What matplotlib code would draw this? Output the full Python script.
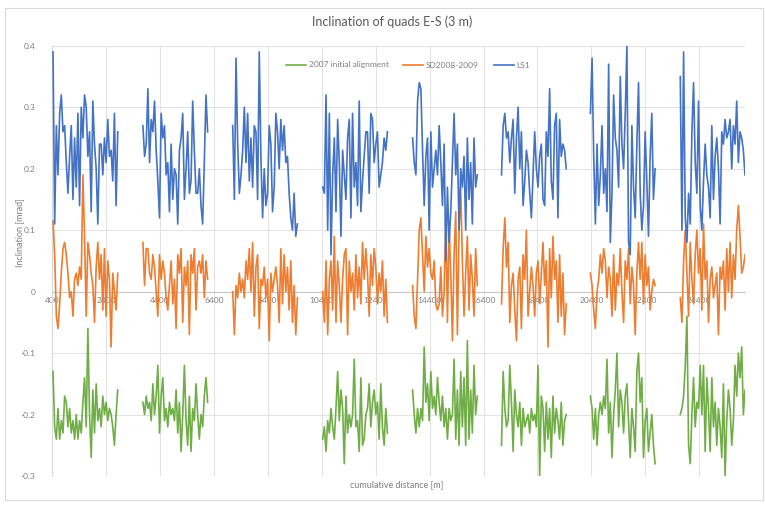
import numpy as np
import matplotlib
matplotlib.use("Agg")
import matplotlib.pyplot as plt
from matplotlib.patches import Rectangle

plt.rcParams['font.family'] = ['Lato', 'DejaVu Sans']

# Start of each arc along the ring [m] and arc length
seg_starts = [437, 3770, 7100, 10437, 13770, 17067, 20363, 23696]
SEG_LEN = 2400

# Inclination per quad [mrad], one list per arc
ls1 = [
    [0.39, 0.11, 0.27, 0.19, 0.29, 0.32, 0.26, 0.27, 0.21, 0.16, 0.22, 0.27, 0.15, 0.25, 0.17, 0.29, 0.14, 0.30, 0.25, 0.32,
     0.30, 0.22, 0.26, 0.13, 0.31, 0.24, 0.20, 0.11, 0.24, 0.24, 0.19, 0.25, 0.21, 0.28, 0.22, 0.23, 0.18, 0.29, 0.14, 0.26],
    [0.27, 0.22, 0.24, 0.33, 0.21, 0.28, 0.26, 0.31, 0.23, 0.18, 0.12, 0.29, 0.25, 0.27, 0.19, 0.21, 0.13, 0.24, 0.15, 0.20,
     0.19, 0.11, 0.23, 0.25, 0.29, 0.15, 0.20, 0.26, 0.16, 0.18, 0.31, 0.23, 0.16, 0.16, 0.20, 0.14, 0.11, 0.21, 0.32, 0.26],
    [0.27, 0.15, 0.38, 0.24, 0.16, 0.19, 0.23, 0.30, 0.21, 0.29, 0.18, 0.25, 0.17, 0.27, 0.26, 0.15, 0.39, 0.22, 0.12, 0.20,
     0.14, 0.16, 0.27, 0.24, 0.13, 0.17, 0.29, 0.26, 0.20, 0.28, 0.23, 0.27, 0.21, 0.22, 0.16, 0.12, 0.10, 0.16, 0.09, 0.11],
    [0.17, 0.16, 0.32, 0.10, 0.29, 0.06, 0.19, 0.25, 0.13, 0.28, 0.21, 0.09, 0.23, 0.19, 0.15, 0.25, 0.28, 0.12, 0.29, 0.17,
     0.21, 0.14, 0.31, 0.13, 0.18, 0.22, 0.26, 0.26, 0.16, 0.29, 0.28, 0.21, 0.24, 0.26, 0.17, 0.19, 0.21, 0.25, 0.23, 0.26],
    [0.25, 0.21, 0.19, 0.31, 0.34, 0.33, 0.23, 0.14, 0.22, 0.25, 0.10, 0.26, 0.17, 0.20, 0.23, 0.19, 0.27, 0.21, 0.14, 0.24,
     0.05, 0.17, 0.08, 0.13, 0.21, 0.29, 0.19, 0.24, 0.10, 0.20, 0.17, 0.22, 0.10, 0.25, 0.15, 0.21, 0.11, 0.25, 0.17, 0.19],
    [0.19, 0.27, 0.29, 0.25, 0.26, 0.21, 0.25, 0.28, 0.16, 0.25, 0.30, 0.20, 0.26, 0.14, 0.18, 0.23, 0.21, 0.16, 0.12, 0.19,
     0.26, 0.20, 0.17, 0.22, 0.24, 0.15, 0.14, 0.26, 0.22, 0.33, 0.18, 0.15, 0.27, 0.29, 0.12, 0.28, 0.22, 0.24, 0.23, 0.20],
    [0.29, 0.38, 0.22, 0.11, 0.24, 0.14, 0.19, 0.27, 0.16, 0.20, 0.13, 0.37, 0.08, 0.16, 0.32, 0.25, 0.23, 0.17, 0.35, 0.24,
     0.20, 0.29, 0.40, 0.08, 0.06, 0.27, 0.17, 0.12, 0.24, 0.34, 0.16, 0.10, 0.14, 0.26, 0.18, 0.09, 0.22, 0.29, 0.15, 0.20],
    [0.35, 0.10, 0.39, 0.12, 0.08, 0.16, 0.11, 0.26, 0.34, 0.21, 0.16, 0.31, 0.14, 0.10, 0.18, 0.24, 0.19, 0.17, 0.12, 0.27,
     0.15, 0.22, 0.25, 0.20, 0.11, 0.26, 0.24, 0.28, 0.25, 0.26, 0.28, 0.20, 0.27, 0.24, 0.31, 0.21, 0.26, 0.25, 0.23, 0.19],
]

sd2008 = [
    [0.115, 0.06, -0.04, -0.06, -0.02, 0.03, 0.07, 0.08, 0.06, 0.03, -0.01, 0.00, -0.04, 0.02, 0.03, 0.01, 0.04, 0.02, 0.19, 0.09,
     -0.04, 0.08, 0.06, 0.03, 0.01, -0.05, 0.04, 0.08, 0.02, 0.06, -0.03, 0.07, -0.04, 0.05, 0.02, -0.09, 0.03, 0.00, -0.03, 0.03],
    [0.08, 0.01, 0.07, 0.07, 0.03, 0.02, 0.06, 0.04, 0.00, -0.04, 0.06, 0.02, 0.05, 0.03, -0.01, -0.03, 0.01, 0.05, -0.02, 0.02,
     -0.06, 0.06, 0.03, 0.07, -0.05, 0.04, 0.01, 0.05, -0.07, 0.06, 0.03, 0.07, -0.03, 0.04, 0.05, 0.03, 0.06, -0.01, 0.05, 0.02],
    [0.00, -0.07, 0.01, -0.01, 0.03, 0.00, 0.02, -0.01, 0.05, 0.02, 0.07, 0.00, 0.08, -0.04, 0.04, 0.06, -0.06, 0.02, 0.01, 0.04,
     -0.01, 0.02, -0.08, 0.03, 0.00, 0.02, 0.04, 0.01, -0.05, 0.07, -0.02, 0.06, 0.00, 0.04, -0.03, 0.05, -0.05, 0.01, -0.07, -0.01],
    [0.00, -0.05, 0.05, -0.07, 0.02, 0.05, -0.03, 0.09, -0.05, 0.05, 0.01, -0.05, 0.02, 0.06, 0.07, -0.07, 0.05, 0.00, 0.03, -0.03,
     0.06, -0.01, 0.04, -0.02, 0.08, 0.02, 0.07, 0.03, -0.04, 0.06, 0.01, 0.07, 0.04, -0.02, 0.03, 0.00, 0.05, -0.04, 0.02, -0.05],
    [0.01, -0.04, -0.06, 0.02, 0.10, 0.12, 0.06, 0.00, 0.09, 0.04, 0.07, 0.03, 0.02, 0.05, -0.02, -0.03, -0.02, 0.04, -0.04, 0.00,
     0.12, -0.05, 0.11, 0.03, -0.08, 0.06, 0.13, -0.07, 0.10, 0.17, 0.05, -0.04, 0.03, 0.09, -0.03, 0.06, 0.02, -0.04, 0.07, 0.01],
    [-0.02, 0.07, 0.12, 0.04, 0.08, -0.05, 0.01, 0.03, -0.03, -0.08, 0.02, 0.04, -0.06, 0.06, 0.02, 0.10, -0.04, 0.00, 0.04, 0.01,
     -0.04, 0.03, 0.05, -0.02, 0.03, 0.08, 0.01, 0.05, -0.09, 0.07, -0.01, 0.09, 0.02, 0.05, -0.05, 0.06, -0.04, 0.03, -0.07, -0.02],
    [0.03, 0.01, -0.03, -0.06, 0.00, 0.02, 0.06, 0.03, 0.07, 0.05, -0.01, 0.04, 0.02, -0.04, 0.06, -0.03, 0.03, 0.01, 0.07, 0.00,
     -0.05, 0.05, 0.02, 0.07, -0.02, 0.04, 0.01, -0.07, 0.03, 0.08, 0.02, 0.08, -0.02, 0.06, 0.01, 0.04, -0.03, 0.00, 0.02, 0.01],
    [-0.01, -0.05, 0.05, 0.10, 0.03, -0.04, 0.08, 0.02, -0.02, 0.06, 0.10, 0.03, 0.07, -0.03, 0.11, 0.02, 0.05, -0.05, 0.02, 0.04,
     -0.01, 0.01, 0.03, -0.07, 0.04, 0.02, 0.05, -0.03, 0.07, 0.00, 0.08, -0.01, 0.06, 0.02, 0.10, 0.14, 0.09, 0.03, 0.04, 0.06],
]

init2007 = [
    [-0.13, -0.22, -0.24, -0.19, -0.24, -0.21, -0.23, -0.17, -0.18, -0.22, -0.19, -0.23, -0.21, -0.24, -0.20, -0.24, -0.21, -0.23, -0.18, -0.14,
     -0.22, -0.06, -0.20, -0.27, -0.16, -0.23, -0.15, -0.21, -0.19, -0.22, -0.17, -0.20, -0.18, -0.21, -0.19, -0.20, -0.22, -0.25, -0.20, -0.16],
    [-0.18, -0.20, -0.17, -0.19, -0.18, -0.21, -0.15, -0.20, -0.17, -0.12, -0.23, -0.17, -0.14, -0.21, -0.19, -0.22, -0.18, -0.20, -0.19, -0.21,
     -0.16, -0.23, -0.18, -0.26, -0.20, -0.12, -0.21, -0.25, -0.17, -0.26, -0.19, -0.21, -0.15, -0.20, -0.24, -0.20, -0.22, -0.17, -0.14, -0.18],
    None,
    [-0.24, -0.22, -0.26, -0.21, -0.23, -0.19, -0.22, -0.24, -0.19, -0.13, -0.21, -0.16, -0.19, -0.28, -0.17, -0.23, -0.20, -0.22, -0.20, -0.11,
     -0.22, -0.21, -0.26, -0.14, -0.25, -0.24, -0.20, -0.19, -0.15, -0.22, -0.18, -0.16, -0.20, -0.18, -0.24, -0.15, -0.22, -0.25, -0.19, -0.23],
    [-0.16, -0.20, -0.23, -0.19, -0.22, -0.19, -0.21, -0.09, -0.18, -0.15, -0.21, -0.13, -0.19, -0.17, -0.20, -0.14, -0.18, -0.21, -0.17, -0.22,
     -0.19, -0.24, -0.19, -0.21, -0.20, -0.11, -0.24, -0.16, -0.25, -0.13, -0.22, -0.14, -0.25, -0.08, -0.24, -0.16, -0.23, -0.12, -0.20, -0.17],
    [-0.25, -0.13, -0.19, -0.22, -0.21, -0.12, -0.18, -0.26, -0.16, -0.20, -0.22, -0.18, -0.25, -0.19, -0.22, -0.21, -0.20, -0.23, -0.19, -0.21,
     -0.20, -0.22, -0.12, -0.30, -0.17, -0.19, -0.26, -0.18, -0.24, -0.19, -0.27, -0.17, -0.23, -0.19, -0.21, -0.24, -0.18, -0.25, -0.21, -0.20],
    [-0.17, -0.19, -0.24, -0.19, -0.25, -0.20, -0.18, -0.20, -0.17, -0.19, -0.11, -0.23, -0.18, -0.27, -0.20, -0.16, -0.10, -0.22, -0.16, -0.18,
     -0.23, -0.17, -0.15, -0.21, -0.27, -0.19, -0.22, -0.26, -0.13, -0.10, -0.18, -0.14, -0.27, -0.21, -0.19, -0.26, -0.23, -0.20, -0.25, -0.28],
    [-0.20, -0.19, -0.17, -0.12, -0.04, -0.25, -0.28, -0.20, -0.14, -0.22, -0.18, -0.19, -0.12, -0.20, -0.12, -0.26, -0.14, -0.19, -0.26, -0.14,
     -0.22, -0.18, -0.25, -0.19, -0.22, -0.27, -0.15, -0.30, -0.21, -0.16, -0.19, -0.25, -0.21, -0.12, -0.17, -0.10, -0.14, -0.09, -0.20, -0.16],
]

series_names = ['2007 initial alignment', 'SD2008-2009', 'LS1']
series_colors = ['#70AD47', '#ED7D31', '#4472C4']

x_ticks = list(range(400, 24401, 2000))
y_ticks = [-0.3, -0.2, -0.1, 0, 0.1, 0.2, 0.3, 0.4]


def join_segments(segments):
    # one line per series, NaN breaks between arcs
    xs, ys = [], []
    for start, vals in zip(seg_starts, segments):
        if vals is None:
            continue
        xs.extend(np.linspace(start, start + SEG_LEN, len(vals)))
        ys.extend(vals)
        xs.append(np.nan)
        ys.append(np.nan)
    return np.array(xs), np.array(ys)


fig = plt.figure(figsize=(7.65, 5.05), dpi=100)
ax = fig.add_axes([0.068, 0.0574, 0.906, 0.852])

# light frame around the whole chart
fig.patches.append(Rectangle((0.007, 0.01), 0.99, 0.975, transform=fig.transFigure,
                             fill=False, edgecolor='#d9d9d9', linewidth=0.8))

for k, (segs, name, col) in enumerate(zip([init2007, sd2008, ls1], series_names, series_colors)):
    x, y = join_segments(segs)
    ax.plot(x, y, color=col, linewidth=1.2, label=name, zorder=3 + k)

ax.set_xticks(x_ticks)
ax.set_xticklabels([str(t) for t in x_ticks])
ax.set_yticks(y_ticks)
ax.set_yticklabels(['-0.3', '-0.2', '-0.1', '0', '0.1', '0.2', '0.3', '0.4'])
ax.set_xlim(400, 26100)
ax.set_ylim(-0.3, 0.4)

ax.grid(True, color='#e3e3e3', linewidth=0.8, zorder=0)
ax.set_axisbelow(True)
for side in ['top', 'right']:
    ax.spines[side].set_visible(False)
ax.spines['bottom'].set_position(('data', 0))
ax.spines['bottom'].set_color('#c8c8c8')
ax.spines['left'].set_color('#d9d9d9')
ax.tick_params(axis='both', length=0, labelsize=6, labelcolor='#7f7f7f')
ax.tick_params(axis='y', pad=12)
ax.tick_params(axis='x', pad=4)

fig.text(392 / 765, 1 - 22 / 505, 'Inclination of quads E-S (3 m)', ha='center', va='center',
         fontsize=9, color='#595959')
fig.text(20 / 765, 1 - 233 / 505, 'Inclination [mrad]', ha='center', va='center', rotation=90,
         fontsize=6.5, color='#7f7f7f')
fig.text(397 / 765, 1 - 485 / 505, 'cumulative distance [m]', ha='center', va='center',
         fontsize=6.5, color='#7f7f7f')

leg = ax.legend(loc='center', bbox_to_anchor=(408 / 765, 1 - 65 / 505), bbox_transform=fig.transFigure,
                ncol=3, frameon=False, fontsize=6, handlelength=2.4, columnspacing=1.8, handletextpad=0.3)
for t in leg.get_texts():
    t.set_color('#7f7f7f')

fig.savefig('out.png', dpi=100)
